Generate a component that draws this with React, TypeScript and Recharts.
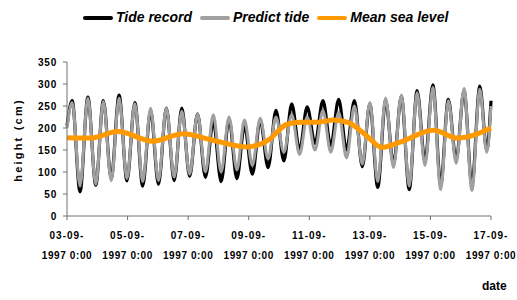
import { LineChart, Line, XAxis, YAxis } from 'recharts'

// times of high and low water, in days after 03-09-1997 0:00
const HIGH_DAYS = [0.17, 0.69, 1.2, 1.72, 2.24, 2.76, 3.28, 3.79, 4.31, 4.83, 5.35, 5.86, 6.38, 6.9, 7.42, 7.93, 8.45, 8.97, 9.49, 10.0, 10.52, 11.04, 11.56, 12.08, 12.59, 13.11, 13.63]
const LOW_DAYS = [0.43, 0.95, 1.46, 1.98, 2.5, 3.02, 3.54, 4.05, 4.57, 5.09, 5.61, 6.12, 6.64, 7.16, 7.68, 8.19, 8.71, 9.23, 9.75, 10.26, 10.78, 11.3, 11.82, 12.34, 12.85, 13.37, 13.86]
const EDGE_DAYS = [0, 14]

const RECORD_HIGHS = [262, 270, 262, 275, 258, 240, 245, 245, 232, 215, 220, 205, 218, 240, 255, 248, 262, 265, 262, 255, 262, 272, 285, 298, 265, 285, 295]
const RECORD_LOWS = [55, 70, 85, 80, 68, 72, 80, 90, 88, 78, 85, 95, 110, 125, 150, 165, 160, 150, 112, 65, 118, 60, 125, 72, 128, 70, 150]
const RECORD_EDGES = [205, 262]

const PREDICT_HIGHS = [258, 268, 260, 268, 255, 245, 245, 238, 232, 230, 225, 218, 222, 225, 230, 225, 240, 235, 250, 258, 268, 275, 280, 292, 262, 290, 288]
const PREDICT_LOWS = [68, 72, 80, 85, 78, 80, 88, 95, 100, 100, 105, 115, 130, 145, 140, 150, 145, 132, 118, 78, 110, 68, 115, 60, 120, 58, 145]
const PREDICT_EDGES = [200, 250]

const MSL_DAYS = [0, 0.76, 1.68, 2.84, 3.83, 4.72, 5.94, 6.7, 7.0, 7.25, 7.7, 8.3, 8.8, 9.3, 9.9, 10.4, 11.0, 12.1, 12.9, 14]
const MSL_VALUES = [178, 177, 192, 170, 187, 174, 157, 175, 195, 208, 213, 213, 218, 212, 182, 156, 168, 195, 177, 200]

const X_TICKS = [0, 2, 4, 6, 8, 10, 12, 14]
const X_TICK_DATES = ['03-09-', '05-09-', '07-09-', '09-09-', '11-09-', '13-09-', '15-09-', '17-09-']
const X_TICK_TIME = '1997 0:00'
const Y_TICKS = [0, 50, 100, 150, 200, 250, 300, 350]

const FONT = '"Liberation Sans", Arial, sans-serif'

function series(highs: number[], lows: number[], edges: number[]) {
  const pts = [
    ...HIGH_DAYS.map((t, i) => ({ t, v: highs[i] })),
    ...LOW_DAYS.map((t, i) => ({ t, v: lows[i] })),
    ...EDGE_DAYS.map((t, i) => ({ t, v: edges[i] })),
  ]
  return pts.sort((a, b) => a.t - b.t)
}

const recordData = series(RECORD_HIGHS, RECORD_LOWS, RECORD_EDGES)
const predictData = series(PREDICT_HIGHS, PREDICT_LOWS, PREDICT_EDGES)
const mslData = MSL_DAYS.map((t, i) => ({ t, v: MSL_VALUES[i] }))

const LEGEND = [
  { label: 'Tide record', color: '#000000' },
  { label: 'Predict tide', color: '#a0a0a0' },
  { label: 'Mean sea level', color: '#ff9900' },
]

function DateTick({ x, y, payload }: { x: number; y: number; payload: { value: number } }) {
  const i = X_TICKS.indexOf(payload.value)
  return (
    <g transform={`translate(${x},${y})`}>
      <text textAnchor="middle" y={17} fontSize={10} fontWeight="bold" fill="#000" letterSpacing={1} fontFamily={FONT}>
        {X_TICK_DATES[i]}
      </text>
      <text textAnchor="middle" y={37} fontSize={10} fontWeight="bold" fill="#000" letterSpacing={0.6} fontFamily={FONT}>
        {X_TICK_TIME}
      </text>
    </g>
  )
}

export default function App() {
  return (
    <div style={{ position: 'absolute', left: 0, top: 0, width: 517, height: 300, background: '#fff', fontFamily: FONT }}>
      <LineChart width={517} height={300} margin={{ top: 62, right: 26, bottom: 0, left: 0 }}>
        <XAxis
          type="number"
          dataKey="t"
          domain={[0, 14]}
          ticks={X_TICKS}
          height={84}
          stroke="#707070"
          tickSize={4}
          tick={DateTick as any}
          interval={0}
        />
        <YAxis
          type="number"
          dataKey="v"
          domain={[0, 350]}
          ticks={Y_TICKS}
          width={67}
          stroke="#707070"
          tickSize={4}
          tickMargin={6}
          interval={0}
          tick={{ fontSize: 10, fontWeight: 'bold', fill: '#000', fontFamily: FONT, letterSpacing: 0.8 }}
          label={{
            content: () => (
              <text x={22} y={140} transform="rotate(-90 22 140)" textAnchor="middle" fontSize={11} fontWeight="bold" letterSpacing={2.2} fill="#000" fontFamily={FONT}>
                height (cm)
              </text>
            ),
          }}
        />
        <Line data={recordData} dataKey="v" type="monotone" stroke="#000000" strokeWidth={3.2} dot={false} isAnimationActive={false} strokeLinejoin="round" />
        <Line data={predictData} dataKey="v" type="monotone" stroke="#a0a0a0" strokeWidth={3} dot={false} isAnimationActive={false} strokeLinejoin="round" />
        <Line data={mslData} dataKey="v" type="monotone" stroke="#ff9900" strokeWidth={5} dot={false} isAnimationActive={false} strokeLinejoin="round" />
      </LineChart>

      <div style={{ position: 'absolute', top: 9, left: 83, display: 'flex', alignItems: 'center' }}>
        {LEGEND.map(item => (
          <div key={item.label} style={{ display: 'flex', alignItems: 'center', marginRight: 8 }}>
            <span style={{ display: 'inline-block', width: 30, height: 4, background: item.color, borderRadius: 2, marginRight: 3 }} />
            <span style={{ fontSize: 14, fontWeight: 'bold', fontStyle: 'italic', color: '#000', lineHeight: '17px' }}>{item.label}</span>
          </div>
        ))}
      </div>

      <div style={{ position: 'absolute', left: 482, top: 279, fontSize: 12, fontWeight: 'bold', color: '#000' }}>date</div>
    </div>
  )
}
